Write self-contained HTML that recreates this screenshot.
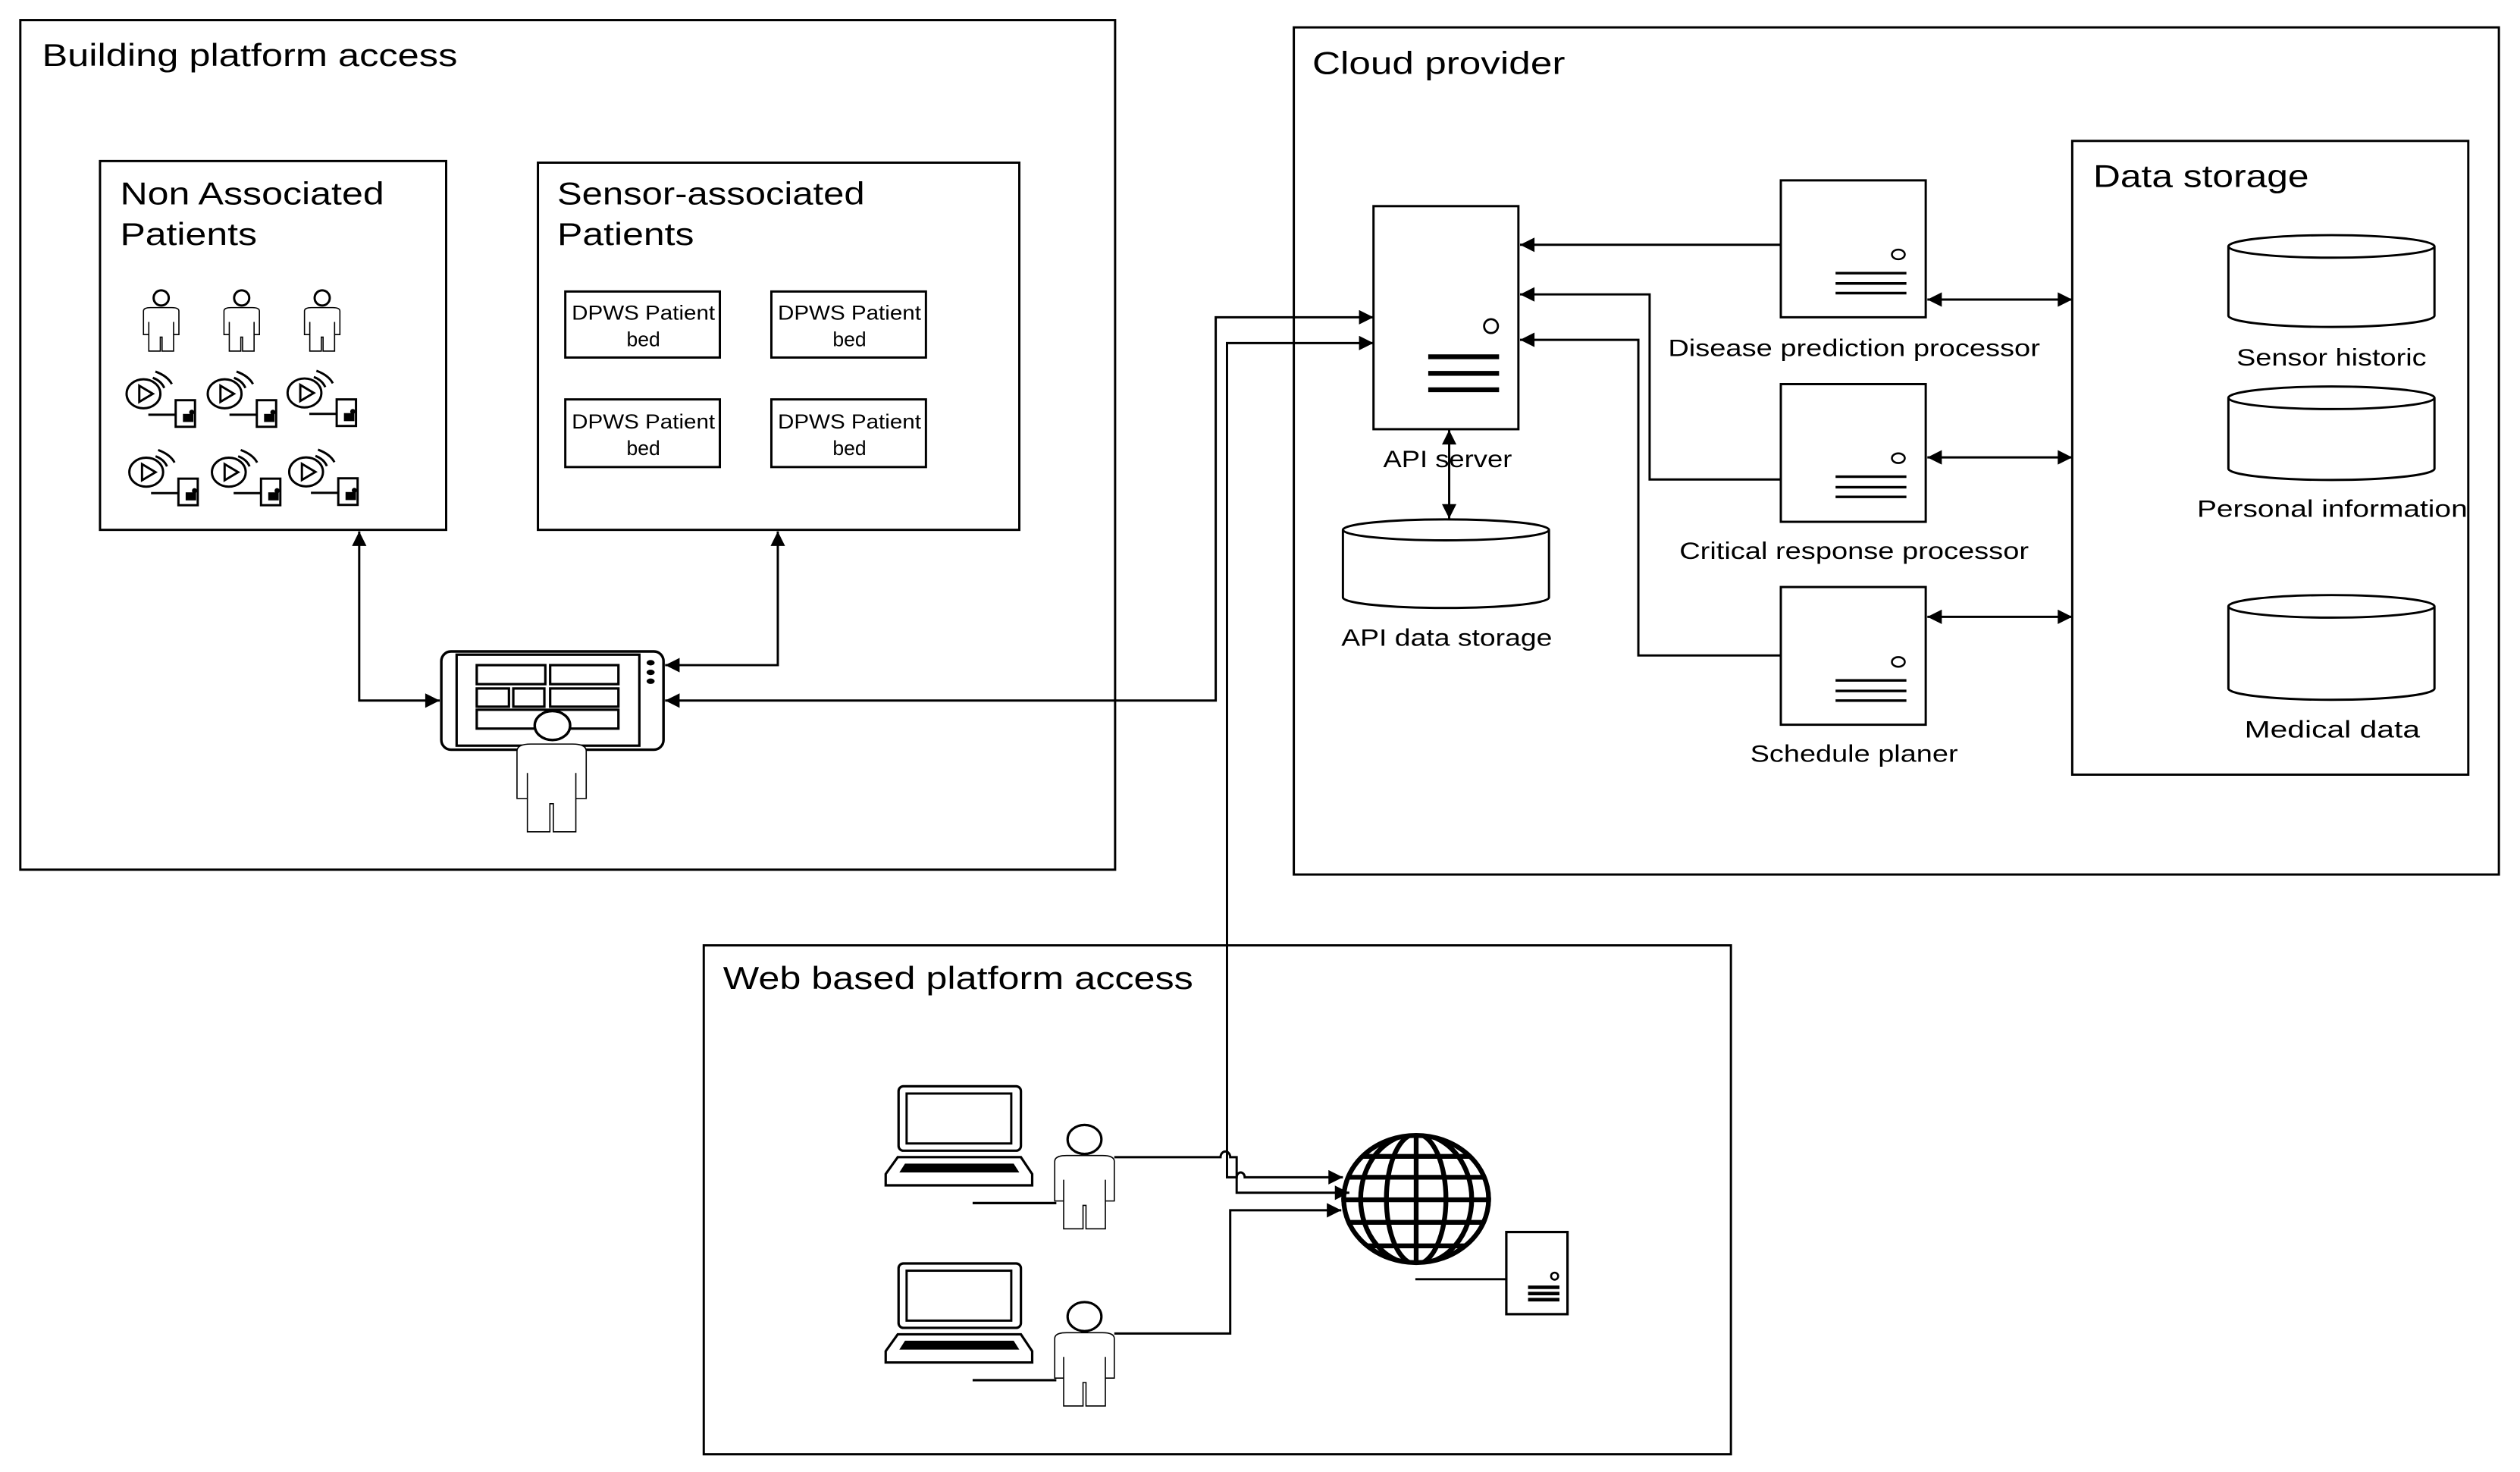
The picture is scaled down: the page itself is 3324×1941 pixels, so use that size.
<!DOCTYPE html>
<html><head><meta charset="utf-8"><style>
html,body{margin:0;padding:0;background:#fff;}
svg{display:block;}
text{font-family:"Liberation Sans",sans-serif;fill:#000;}
</style></head><body>
<svg width="3324" height="1941" viewBox="0 0 1565 914" xmlns="http://www.w3.org/2000/svg">
<defs>
<marker id="ah" viewBox="0 0 10 10" refX="10" refY="5" markerWidth="10" markerHeight="9" markerUnits="userSpaceOnUse" orient="auto-start-reverse"><path d="M0,0 L10,5 L0,10 Z" fill="#000"/></marker>
<g id="body"><path d="M0,62 V8 Q0,0 8,0 H32 Q40,0 40,8 V62 H34 V100 H21 V68 H19 V100 H6 V62 Z M6,33 V62 M34,33 V62" fill="#fff" stroke="#000" stroke-width="1.6" vector-effect="non-scaling-stroke"/></g>
<g id="sensor" fill="none" stroke="#000" stroke-width="1.4">
<ellipse cx="0" cy="0" rx="10.5" ry="9"/>
<path d="M-2.6,-5 L5.8,0 L-2.6,5 Z"/>
<path d="M5.8,-9.9 Q11,-8 12.9,-3.6"/>
<path d="M7.4,-13.8 Q15,-11 17.6,-6"/>
<path d="M3,13 H20"/>
<rect x="20" y="4" width="12" height="16.5" fill="#fff"/>
<rect x="24.5" y="12.5" width="6.5" height="5" fill="#000" stroke="none"/>
<circle cx="30" cy="11.5" r="1.6" fill="#000" stroke="none"/>
</g>
<g id="laptop">
<rect x="558" y="674.5" width="76" height="40" rx="3" fill="#fff" stroke="#000" stroke-width="1.5"/>
<rect x="563" y="679" width="65" height="31" fill="none" stroke="#000" stroke-width="1.4"/>
<path d="M557.5,718.5 H634 L641,729 V736 H550 V729 Z" fill="#fff" stroke="#000" stroke-width="1.5"/>
<path d="M562,722.5 H629.5 L633,728 H558.5 Z" fill="#000"/>
<line x1="604" y1="747" x2="656" y2="747" stroke="#000" stroke-width="1.5"/>
</g>
<clipPath id="gc"><ellipse cx="879.5" cy="744.5" rx="46.5" ry="40.5"/></clipPath>
</defs>

<g fill="none" stroke="#000" stroke-width="1.4">
<rect x="12.5" y="12.5" width="680" height="527.5"/>
<rect x="62" y="100" width="215" height="229"/>
<rect x="334" y="101" width="299" height="228"/>
<rect x="351" y="181" width="96" height="41"/>
<rect x="479" y="181" width="96" height="41"/>
<rect x="351" y="248" width="96" height="42"/>
<rect x="479" y="248" width="96" height="42"/>
<rect x="803.5" y="17" width="748.5" height="526"/>
<rect x="1287" y="87.5" width="246" height="393.5"/>
<rect x="437" y="587" width="638" height="316"/>
</g>

<text x="26" y="41" font-size="19.5" textLength="258" lengthAdjust="spacingAndGlyphs">Building platform access</text>
<text x="74.5" y="127" font-size="19.5" textLength="164" lengthAdjust="spacingAndGlyphs">Non Associated</text>
<text x="74.5" y="152" font-size="19.5" textLength="85" lengthAdjust="spacingAndGlyphs">Patients</text>
<text x="346" y="127" font-size="19.5" textLength="191" lengthAdjust="spacingAndGlyphs">Sensor-associated</text>
<text x="346" y="152" font-size="19.5" textLength="85" lengthAdjust="spacingAndGlyphs">Patients</text>
<g font-size="12.5" text-anchor="middle">
<text x="399.5" y="198.5" textLength="89" lengthAdjust="spacingAndGlyphs">DPWS Patient</text>
<text x="399.5" y="215">bed</text>
<text x="527.5" y="198.5" textLength="89" lengthAdjust="spacingAndGlyphs">DPWS Patient</text>
<text x="527.5" y="215">bed</text>
<text x="399.5" y="266" textLength="89" lengthAdjust="spacingAndGlyphs">DPWS Patient</text>
<text x="399.5" y="282.5">bed</text>
<text x="527.5" y="266" textLength="89" lengthAdjust="spacingAndGlyphs">DPWS Patient</text>
<text x="527.5" y="282.5">bed</text>
</g>
<text x="815" y="46" font-size="19.5" textLength="157" lengthAdjust="spacingAndGlyphs">Cloud provider</text>
<text x="1300" y="116" font-size="19.5" textLength="134" lengthAdjust="spacingAndGlyphs">Data storage</text>
<text x="449" y="614" font-size="19.5" textLength="292" lengthAdjust="spacingAndGlyphs">Web based platform access</text>
<g font-size="15">
<text x="1036" y="221" textLength="231" lengthAdjust="spacingAndGlyphs">Disease prediction processor</text>
<text x="1043" y="347" textLength="217" lengthAdjust="spacingAndGlyphs">Critical response processor</text>
<text x="1087" y="473" textLength="129" lengthAdjust="spacingAndGlyphs">Schedule planer</text>
<text x="1389" y="227" textLength="118" lengthAdjust="spacingAndGlyphs">Sensor historic</text>
<text x="1364.5" y="321" textLength="168" lengthAdjust="spacingAndGlyphs">Personal information</text>
<text x="1394" y="458" textLength="109" lengthAdjust="spacingAndGlyphs">Medical  data</text>
<text x="859" y="290" textLength="80" lengthAdjust="spacingAndGlyphs">API server</text>
<text x="833" y="401" textLength="131" lengthAdjust="spacingAndGlyphs">API data storage</text>
</g>

<!-- patients -->
<g>
<use href="#body" transform="translate(89,191) scale(0.55,0.27)"/>
<circle cx="100" cy="185" r="4.7" fill="#fff" stroke="#000" stroke-width="1.4"/>
<use href="#body" transform="translate(139,191) scale(0.55,0.27)"/>
<circle cx="150" cy="185" r="4.7" fill="#fff" stroke="#000" stroke-width="1.4"/>
<use href="#body" transform="translate(189,191) scale(0.55,0.27)"/>
<circle cx="200" cy="185" r="4.7" fill="#fff" stroke="#000" stroke-width="1.4"/>
</g>
<use href="#sensor" transform="translate(89,244.5)"/>
<use href="#sensor" transform="translate(139.4,244.5)"/>
<use href="#sensor" transform="translate(189,244)"/>
<use href="#sensor" transform="translate(90.7,293.2)"/>
<use href="#sensor" transform="translate(142,293.2)"/>
<use href="#sensor" transform="translate(190,293)"/>

<!-- tablet -->
<rect x="274" y="404.5" width="138" height="61" rx="6" fill="#fff" stroke="#000" stroke-width="1.6"/>
<rect x="283.5" y="406.5" width="113.5" height="56.5" fill="none" stroke="#000" stroke-width="1.5"/>
<g fill="none" stroke="#000" stroke-width="1.5">
<rect x="296" y="413" width="42.6" height="11.8"/>
<rect x="341.6" y="413" width="42.4" height="11.8"/>
<rect x="296" y="427.5" width="20" height="11.3"/>
<rect x="318.7" y="427.5" width="19.3" height="11.3"/>
<rect x="341.6" y="427.5" width="42.4" height="11.3"/>
<rect x="296" y="440.7" width="88" height="11.7"/>
</g>
<ellipse cx="404" cy="411.5" rx="2.5" ry="1.7"/>
<ellipse cx="404" cy="417.5" rx="2.5" ry="1.7"/>
<ellipse cx="404" cy="423" rx="2.5" ry="1.7"/>
<use href="#body" transform="translate(321,462) scale(1.075,0.545)"/>
<ellipse cx="343" cy="450.5" rx="11" ry="9" fill="#fff" stroke="#000" stroke-width="1.6"/>

<!-- connectors building -->
<g fill="none" stroke="#000" stroke-width="1.4">
<path d="M223,330 V435 H273" marker-start="url(#ah)" marker-end="url(#ah)"/>
<path d="M483,330 V413 H413" marker-start="url(#ah)" marker-end="url(#ah)"/>
<path d="M413,435 H755 V197 H853" marker-start="url(#ah)" marker-end="url(#ah)"/>
</g>

<!-- API server -->
<rect x="853" y="128" width="90" height="138.5" fill="#fff" stroke="#000" stroke-width="1.4"/>
<circle cx="926" cy="202.5" r="4.3" fill="none" stroke="#000" stroke-width="1.3"/>
<g stroke="#000" stroke-width="3"><line x1="887" y1="221.5" x2="931" y2="221.5"/><line x1="887" y1="231.8" x2="931" y2="231.8"/><line x1="887" y1="242" x2="931" y2="242"/></g>
<line x1="900" y1="267" x2="900" y2="322" stroke="#000" stroke-width="1.4" marker-start="url(#ah)" marker-end="url(#ah)"/>

<!-- cylinders -->
<g fill="#fff" stroke="#000" stroke-width="1.4">
<path d="M834,329 V371 A64,6.5 0 0 0 962,371 V329 A64,6.5 0 0 0 834,329 A64,6.5 0 0 0 962,329"/>
<path d="M1384,153 V196 A64,7 0 0 0 1512,196 V153 A64,7 0 0 0 1384,153 A64,7 0 0 0 1512,153"/>
<path d="M1384,247 V291 A64,7 0 0 0 1512,291 V247 A64,7 0 0 0 1384,247 A64,7 0 0 0 1512,247"/>
<path d="M1384,376.5 V427.5 A64,7 0 0 0 1512,427.5 V376.5 A64,7 0 0 0 1384,376.5 A64,7 0 0 0 1512,376.5"/>
</g>

<!-- processors -->
<g fill="#fff" stroke="#000" stroke-width="1.4">
<rect x="1106" y="112" width="90" height="85"/>
<rect x="1106" y="238.5" width="90" height="85.5"/>
<rect x="1106" y="364.5" width="90" height="85.5"/>
</g>
<g fill="none" stroke="#000" stroke-width="1.2">
<ellipse cx="1179" cy="158" rx="4" ry="3"/>
<ellipse cx="1179" cy="284.5" rx="4" ry="3"/>
<ellipse cx="1179" cy="411" rx="4" ry="3"/>
</g>
<g stroke="#000" stroke-width="1.6">
<path d="M1140,169.6 H1184 M1140,176 H1184 M1140,182 H1184"/>
<path d="M1140,296 H1184 M1140,302.5 H1184 M1140,308.5 H1184"/>
<path d="M1140,422.5 H1184 M1140,429 H1184 M1140,435 H1184"/>
</g>
<g fill="none" stroke="#000" stroke-width="1.4">
<path d="M1106,152 H944" marker-end="url(#ah)"/>
<path d="M1106,297.7 H1024.5 V182.8 H944" marker-end="url(#ah)"/>
<path d="M1106,407 H1017.5 V211 H944" marker-end="url(#ah)"/>
<line x1="1197" y1="186" x2="1287" y2="186" marker-start="url(#ah)" marker-end="url(#ah)"/>
<line x1="1197" y1="284" x2="1287" y2="284" marker-start="url(#ah)" marker-end="url(#ah)"/>
<line x1="1197" y1="383" x2="1287" y2="383" marker-start="url(#ah)" marker-end="url(#ah)"/>
</g>

<!-- web -->
<use href="#laptop"/>
<use href="#laptop" transform="translate(0,110)"/>
<use href="#body" transform="translate(655,717.5) scale(0.925,0.455)"/>
<ellipse cx="673.5" cy="707.5" rx="10.5" ry="9" fill="#fff" stroke="#000" stroke-width="1.5"/>
<use href="#body" transform="translate(655,827.5) scale(0.925,0.455)"/>
<ellipse cx="673.5" cy="817.5" rx="10.5" ry="9" fill="#fff" stroke="#000" stroke-width="1.5"/>

<g fill="none" stroke="#000" stroke-width="1.4">
<path d="M853,213 H762 V731 H768 A2.5,3 0 0 1 773,731 H834" marker-start="url(#ah)" marker-end="url(#ah)"/>
<path d="M692,718.5 H758 A3,3.5 0 0 1 764,718.5 H768 V740.6 H838" marker-end="url(#ah)"/>
<path d="M692,828 H764 V751.5 H833" marker-end="url(#ah)"/>
<path d="M879,794.3 H935.5"/>
</g>

<!-- globe -->
<g clip-path="url(#gc)" stroke="#000" stroke-width="3" fill="none">
<ellipse cx="879.5" cy="744.5" rx="34.5" ry="40.5"/>
<ellipse cx="879.5" cy="744.5" rx="18.5" ry="40.5"/>
<line x1="879.5" y1="700" x2="879.5" y2="790"/>
<path d="M820,718 H940 M820,731 H940 M820,745 H940 M820,759 H940 M820,773.6 H940"/>
</g>
<ellipse cx="879.5" cy="744.5" rx="45" ry="39.5" fill="none" stroke="#000" stroke-width="3"/>

<rect x="935.5" y="765" width="38" height="51" fill="#fff" stroke="#000" stroke-width="1.5"/>
<circle cx="965.5" cy="792.4" r="2.2" fill="none" stroke="#000" stroke-width="1.2"/>
<g stroke="#000" stroke-width="2.2"><path d="M949,799.3 H968.5 M949,803.2 H968.5 M949,807 H968.5"/></g>
</svg>
</body></html>
